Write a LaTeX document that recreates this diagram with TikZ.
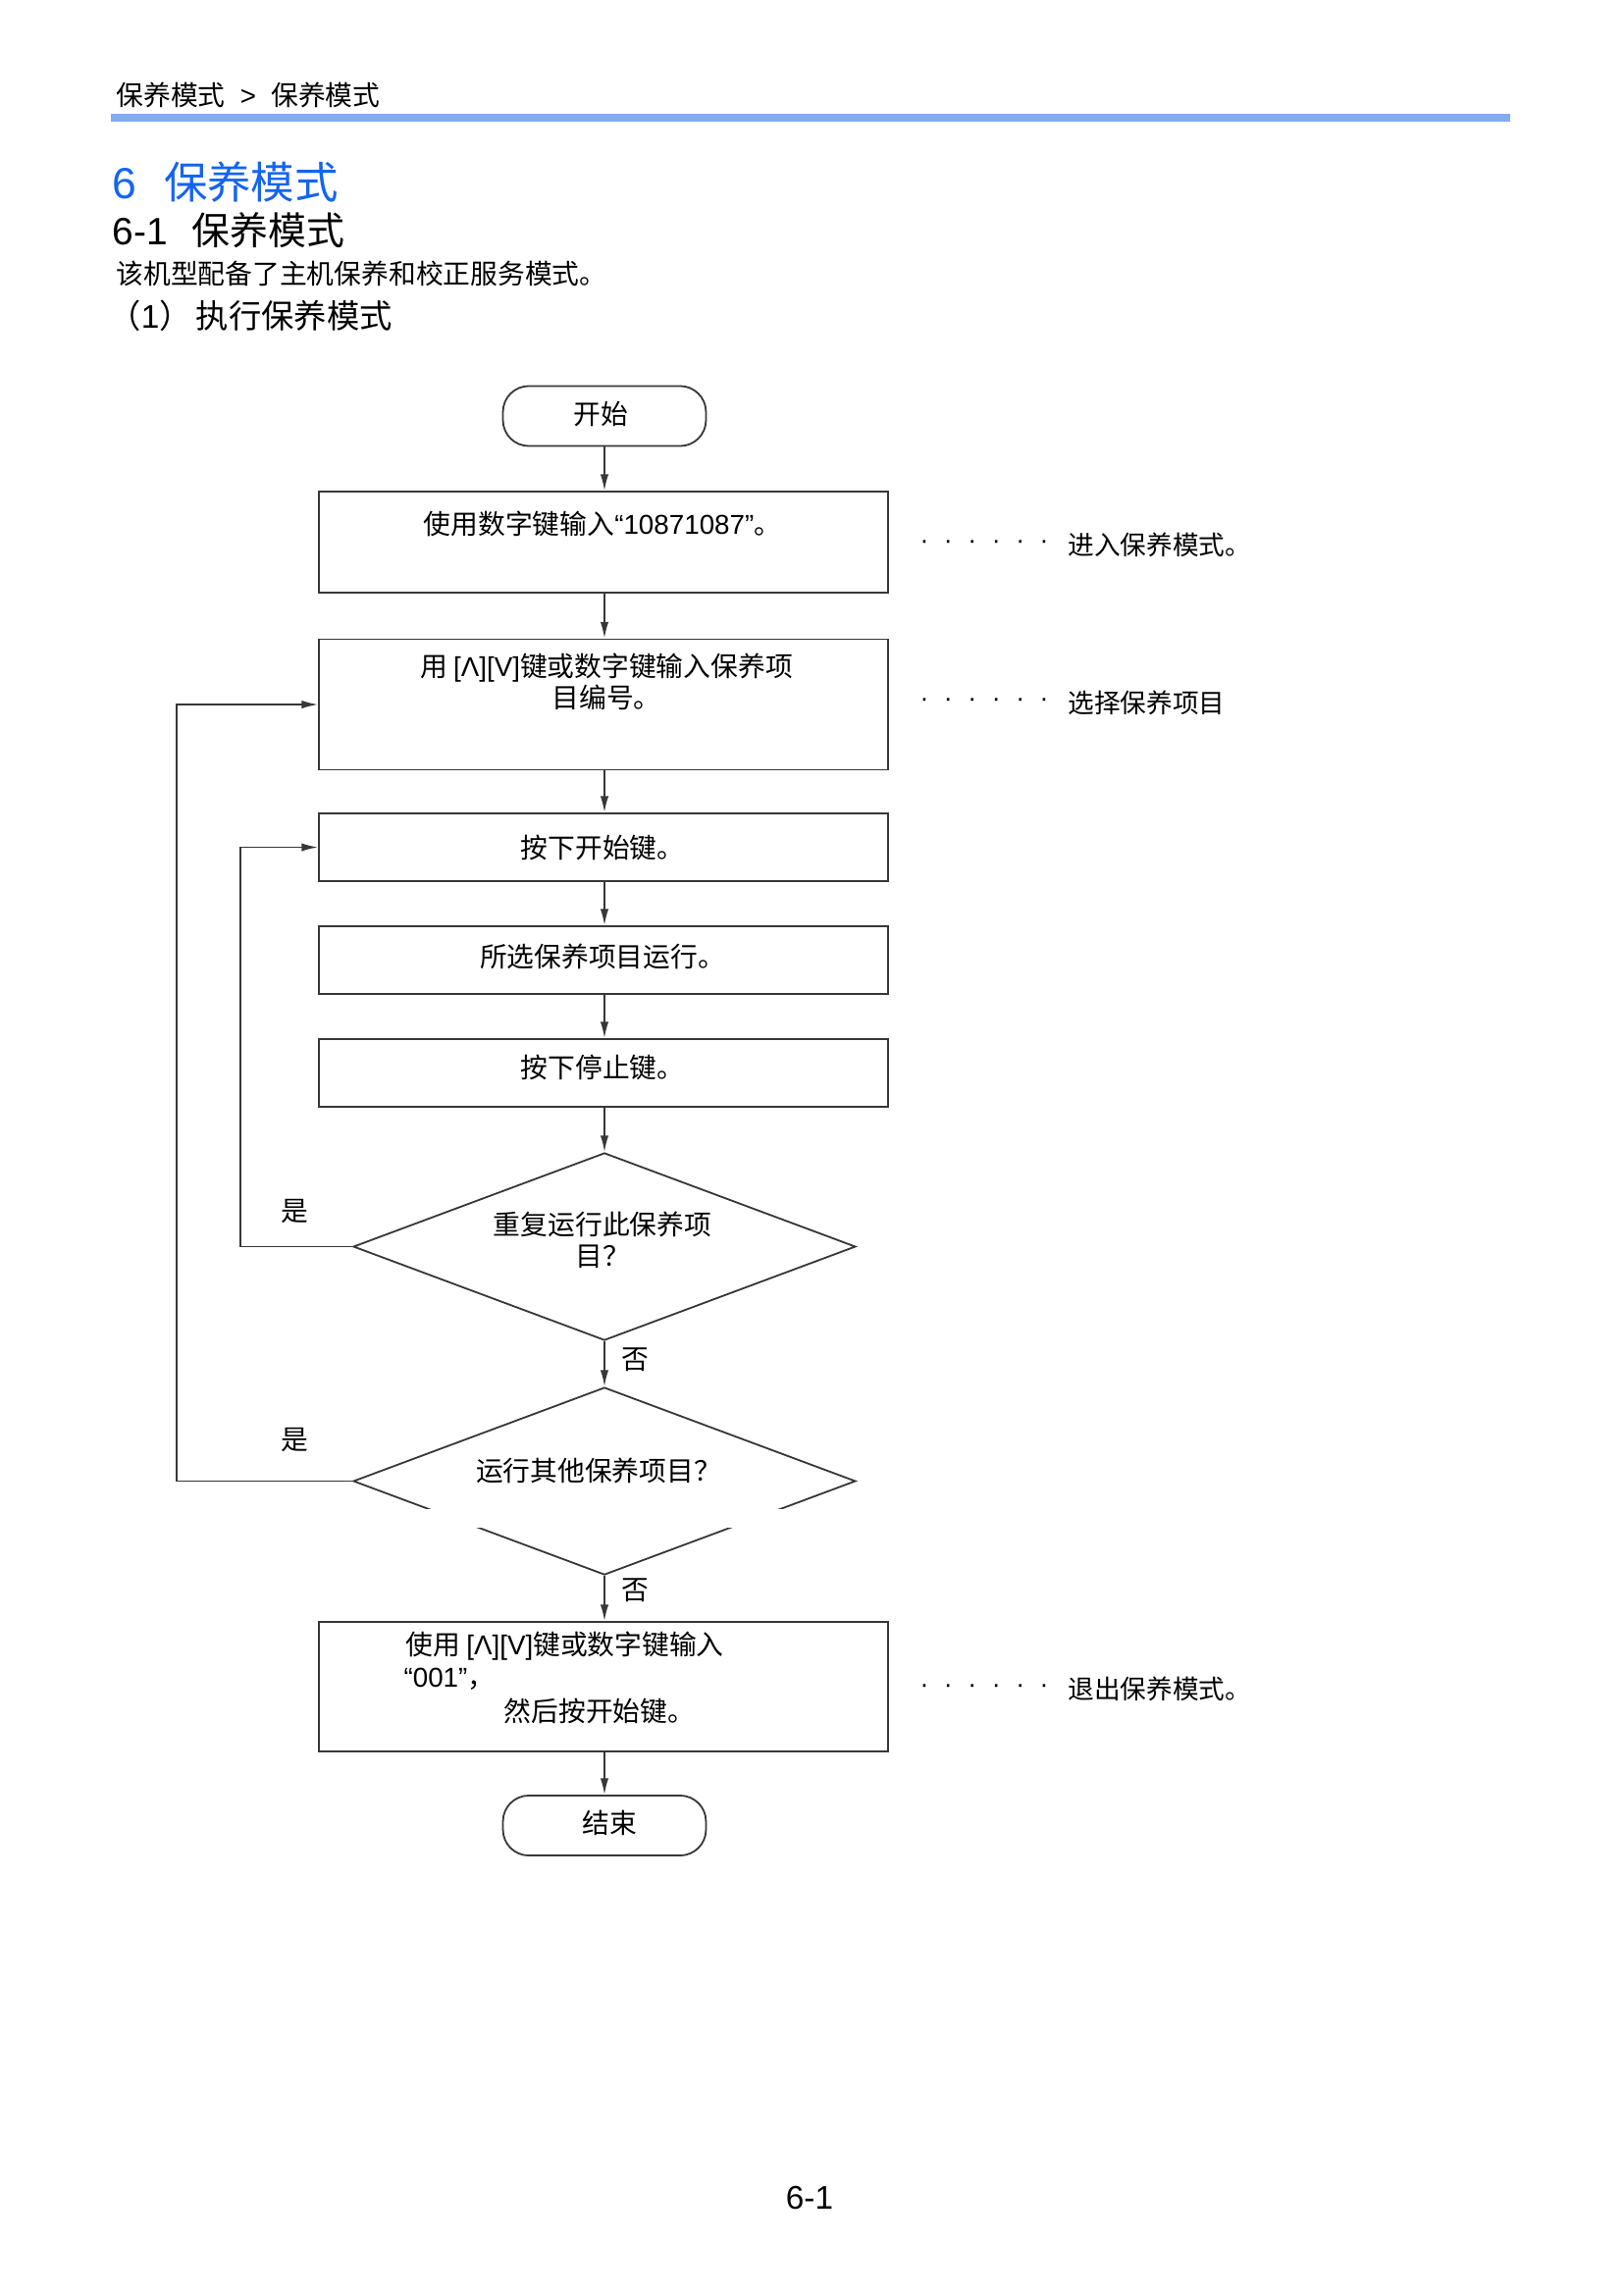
\documentclass[tikz,border=0pt]{standalone}
\usepackage{fontspec}
\setmainfont{Noto Sans CJK SC}
\newfontfamily\latfam{Liberation Sans}
\newcommand{\latt}[1]{{\latfam #1}}
\usetikzlibrary{shapes.geometric,arrows.meta,calc}
\definecolor{titleblue}{RGB}{20,100,240}
\definecolor{barblue}{RGB}{130,170,245}
\definecolor{ln}{RGB}{55,55,55}
\begin{document}
\begin{tikzpicture}[x=0.36pt,y=-0.36pt,
  box/.style={draw=ln, line width=0.65pt, minimum width=208.8pt, inner sep=0pt},
  term/.style={draw=ln, line width=0.65pt, rounded corners=9.5pt, minimum width=74.5pt, minimum height=22pt, inner sep=0pt},
  dec/.style={diamond, draw=ln, line width=0.65pt, minimum width=184.3pt, minimum height=68.8pt, inner sep=0pt},
  txt/.style={font=\fontsize{10}{11.6}\selectfont, inner sep=0pt, align=center},
  note/.style={font=\fontsize{9.6}{11}\selectfont, inner sep=0pt, anchor=west},
  arr/.style={draw=ln, line width=0.65pt, -{Latex[length=6pt,width=3pt]}}]
\useasboundingbox[fill=white] (0,0) rectangle (1654,2339);

% page header
\node[anchor=west, inner sep=0pt, font=\fontsize{10}{12}\selectfont] (hdr) at (118,97) {保养模式\hspace{5.5pt}\latt{>}\hspace{5.5pt}保养模式};
\fill[barblue] (113,116) rectangle (1539,124);
\node[anchor=west, inner sep=0pt, font=\fontsize{16}{19}\selectfont, text=titleblue] (ttl) at (114,186) {\latt{6}\hspace{10pt}保养模式};
\node[anchor=west, inner sep=0pt, font=\fontsize{14}{17}\selectfont] (sub) at (114,235) {\latt{6-1}\hspace{9pt}保养模式};
\node[anchor=west, inner sep=0pt, font=\fontsize{10}{12}\selectfont] (intro) at (118,279) {该机型配备了主机保养和校正服务模式。};
\node[anchor=west, inner sep=0pt, font=\fontsize{12}{14}\selectfont] (step1) at (110,322) {（\latt{1}）\hspace{1.5pt}执行保养模式};

% flowchart nodes
\node[term] (start) at (616,424) {};
\node[txt] (startt) at (612,422) {开始};

\node[box, minimum height=37.08pt] (b1) at (615,552.5) {};
\node[txt] (b1t) at (614,534) {使用数字键输入\latt{“10871087”}。};

\node[box, minimum height=47.88pt] (b2) at (615,718) {};
\node[txt] (b2t) at (618,695) {用 \latt{[Λ][V]}键或数字键输入保养项\\目编号。};

\node[box, minimum height=24.84pt] (b3) at (615,863.5) {};
\node[txt] (b3t) at (614,864) {按下开始键。};

\node[box, minimum height=24.84pt] (b4) at (615,978.5) {};
\node[txt] (b4t) at (614,975) {所选保养项目运行。};

\node[box, minimum height=24.84pt] (b5) at (615,1093.5) {};
\node[txt] (b5t) at (614,1088) {按下停止键。};

\node[dec] (d1) at (616,1270.5) {};
\node[txt] (d1t) at (614,1264) {重复运行此保养项\\目？};

\node[dec] (d2) at (616,1509.5) {};
\node[txt] (d2t) at (610,1499) {运行其他保养项目？};
\fill[white] (420,1538) rectangle (815,1557);

\node[box, minimum height=47.52pt] (b6) at (615,1719) {};
\node[txt, anchor=west] (b6a) at (413,1678) {使用 \latt{[Λ][V]}键或数字键输入};
\node[txt, anchor=west] (b6b) at (411,1711) {\latt{“001”}，};
\node[txt] (b6c) at (611,1744) {然后按开始键。};

\node[term] (end) at (616,1860.5) {};
\node[txt] (endt) at (621,1858) {结束};

% main connectors
\draw[arr] (start.south) -- (start.south |- b1.north);
\draw[arr] (b1.south -| start.south) -- (start.south |- b2.north);
\draw[arr] (b2.south -| start.south) -- (start.south |- b3.north);
\draw[arr] (b3.south -| start.south) -- (start.south |- b4.north);
\draw[arr] (b4.south -| start.south) -- (start.south |- b5.north);
\draw[arr] (b5.south -| d1.north) -- (d1.north);
\draw[arr] (d1.south) -- (d2.north);
\draw[arr] (d2.south) -- (d2.south |- b6.north);
\draw[arr] (b6.south -| end.north) -- (end.north);

% loops
\coordinate (lo) at (180,0);
\coordinate (li) at (245,0);
\draw[arr] (d2.west) -- (d2.west -| lo) |- (b2.west);
\draw[arr] (d1.west) -- (d1.west -| li) |- (b3.west);

% yes / no labels
\node[txt] (y1) at (300,1235) {是};
\node[txt] (y2) at (300,1468) {是};
\node[txt] (n1) at (647,1386) {否};
\node[txt] (n2) at (647,1621) {否};

% side notes
\newcommand{\dotrow}{{\latfam ·\hspace{5.6pt}·\hspace{5.6pt}·\hspace{5.6pt}·\hspace{5.6pt}·\hspace{5.6pt}·}}
\node[note] (s1d) at (937,555) {\dotrow};
\node[note] (s1) at (1088,555) {进入保养模式。};
\node[note] (s2d) at (937,716) {\dotrow};
\node[note] (s2) at (1088,716) {选择保养项目};
\node[note] (s3d) at (937,1721) {\dotrow};
\node[note] (s3) at (1088,1721) {退出保养模式。};

% page number
\node[inner sep=0pt, font=\latfam\fontsize{12}{14}\selectfont] (pg) at (825,2240) {6-1};
\end{tikzpicture}
\end{document}
